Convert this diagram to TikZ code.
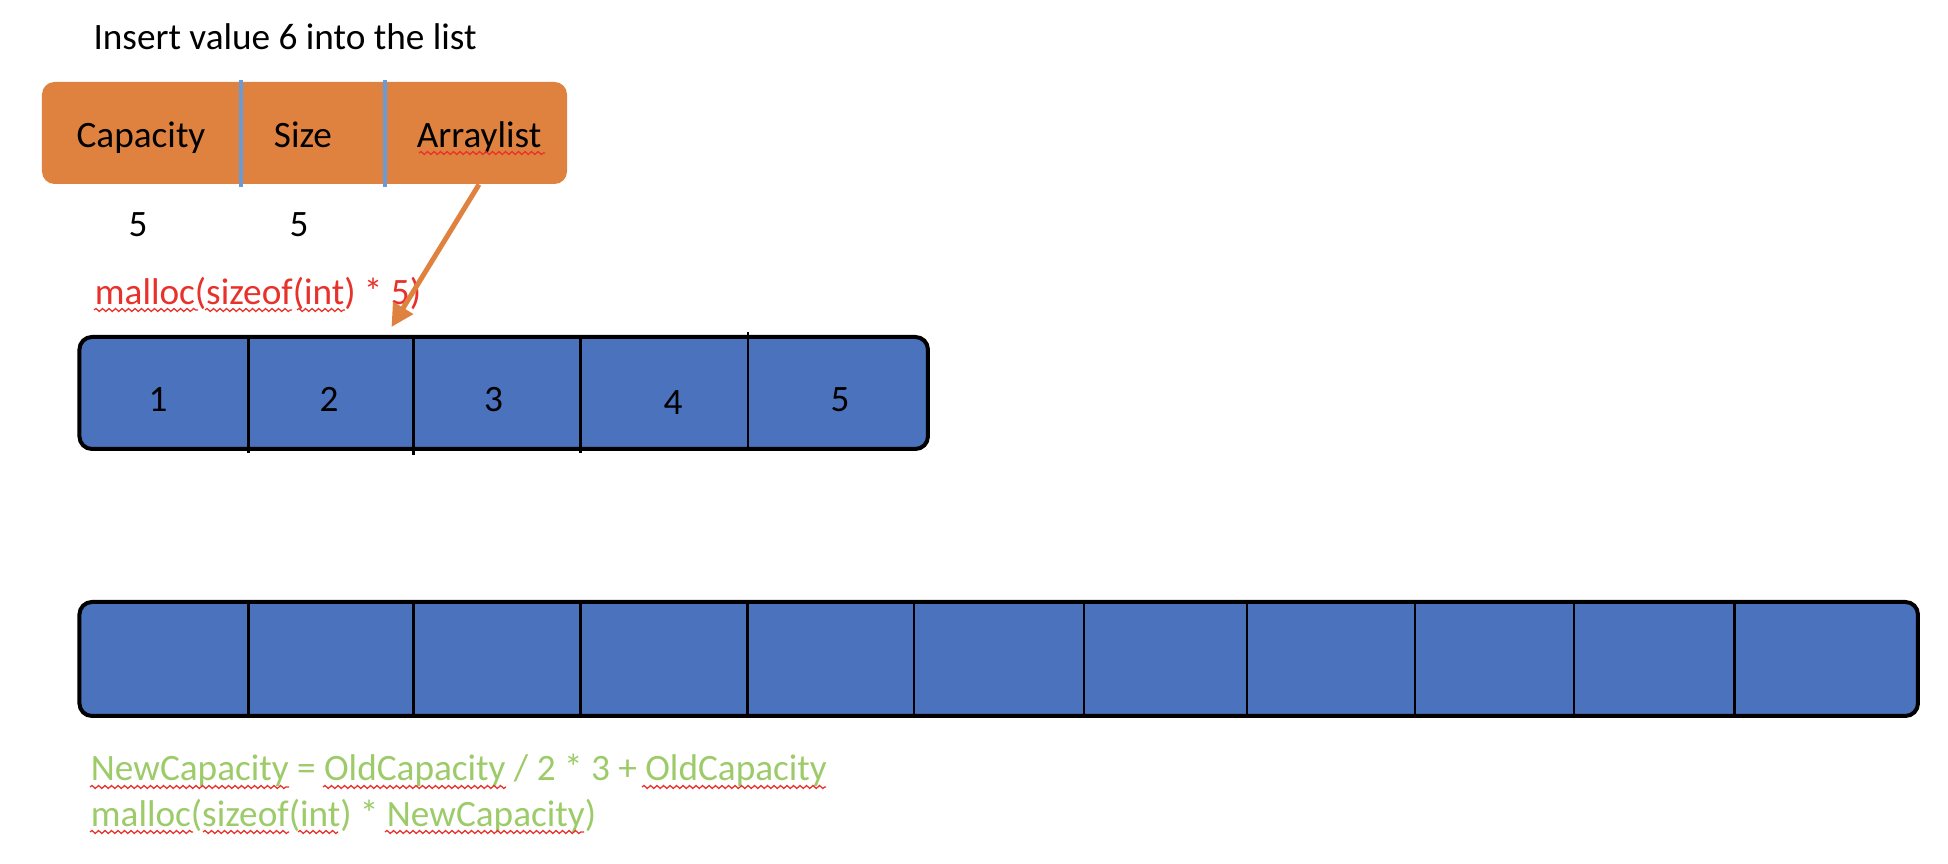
\documentclass[tikz,border=0pt]{standalone}
\usepackage{fontspec}
\setmainfont{Carlito}
\usetikzlibrary{arrows.meta,decorations.pathmorphing}
\definecolor{hdrorange}{HTML}{E0823F}
\definecolor{cellblue}{HTML}{4A72BD}
\definecolor{sepblue}{HTML}{6A9BD6}
\definecolor{allocred}{HTML}{E8312A}
\definecolor{calcgreen}{HTML}{9DCB6A}

\begin{document}
\begin{tikzpicture}[x=0.4pt,y=-0.4pt]
\tikzstyle{every node}=[font=\fontsize{14.9}{18}\selectfont, inner sep=0pt]
\tikzstyle{txt}=[anchor=base west]
\tikzstyle{num}=[anchor=base]
\tikzstyle{hdrbox}=[fill=hdrorange, rounded corners=5pt, minimum width=210pt, minimum height=40.8pt]
\tikzstyle{array}=[draw=black, line width=1.6pt, fill=cellblue, rounded corners=5pt]
\tikzstyle{divider}=[line width=1.1pt]
\tikzstyle{spell}=[draw=allocred, line width=0.5pt, decorate, decoration={snake, amplitude=0.6pt, segment length=2.6pt}]

\useasboundingbox (0,0) rectangle (1948,864);

\node[txt] (title) at (93,50) {Insert value 6 into the list};

% struct
\node[hdrbox] (hdr) at (304.5,133) {};
\draw[sepblue, line width=1.6pt] (240.5,80) -- (240.5,187);
\draw[sepblue, line width=1.6pt] (385,80) -- (385,187);
\node[num] (cap) at (141,148) {Capacity};
\node[num] (size) at (303,148) {Size};
\node[num] (alist) at (479,148) {Arraylist};
\draw[spell] (419,153) -- (545,153);

\node[num] (capval) at (138,237) {5};
\node[num] (sizeval) at (299,237) {5};

\node[txt, text=allocred] (alloc) at (94.4,305) {malloc(sizeof(int) * 5)};
\draw[spell] (94,310) -- (198,310);
\draw[spell] (205,310) -- (292,310);
\draw[spell] (297,310) -- (345,310);

% old array
\node[array, minimum width=339.4pt, minimum height=44.8pt] (arrA) at (503.7,393) {};
\foreach \x/\ya/\yb in {248.4/337/453, 413.3/337/455, 580.3/337/453, 748/332/449}
  \draw[divider] (\x,\ya) -- (\x,\yb);
\foreach \x/\y/\n in {158/412/1, 329/412/2, 493.5/412/3, 673/415/4, 840/412/5}
  \node[num] (a\n) at (\x,\y) {\n};

\coordinate (ptr) at (391.5,327);
\draw[hdrorange, line width=2pt, -{Triangle[length=9pt,width=9pt]}] (hdr.south -| alist) -- (ptr);

% new array
\node[array, minimum width=735.4pt, minimum height=45.6pt] (arrB) at (998.7,659) {};
\foreach \x in {248.4, 413.3, 580.3, 747.2, 914.1, 1084, 1247, 1414.9, 1573.9, 1734.8}
  \draw[divider] (\x,602) -- (\x,716);

\node[txt, text=calcgreen] (grow) at (90.4,781) {NewCapacity = OldCapacity / 2 * 3 + OldCapacity};
\node[txt, text=calcgreen] (realloc) at (90.4,827) {malloc(sizeof(int) * NewCapacity)};
\draw[spell] (90,787) -- (289,787);
\draw[spell] (323,787) -- (506,787);
\draw[spell] (642,787) -- (826,787);
\draw[spell] (90,832) -- (193,832);
\draw[spell] (203,832) -- (289,832);
\draw[spell] (298,832) -- (338,832);
\draw[spell] (385,832) -- (584,832);

\end{tikzpicture}
\end{document}
